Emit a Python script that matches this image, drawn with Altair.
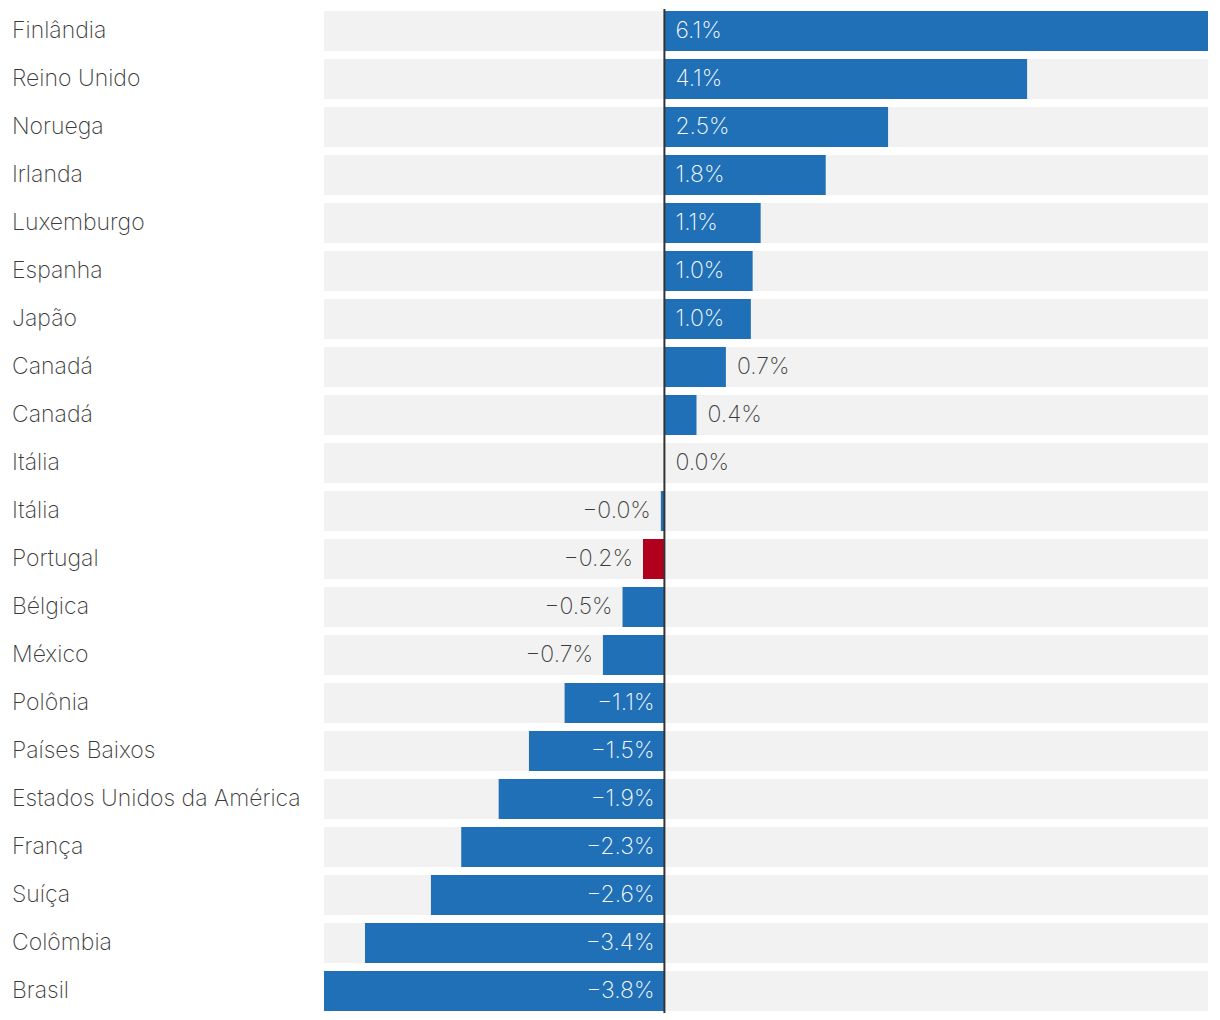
import altair as alt
import pandas as pd

countries = ["Finlândia", "Reino Unido", "Noruega", "Irlanda", "Luxemburgo", "Espanha",
             "Japão", "Canadá", "Canadá", "Itália", "Itália", "Portugal", "Bélgica",
             "México", "Polônia", "Países Baixos", "Estados Unidos da América", "França",
             "Suíça", "Colômbia", "Brasil"]
values = [6.1, 4.07, 2.51, 1.81, 1.08, 0.99, 0.97, 0.69, 0.36, 0.0, -0.04, -0.24, -0.47,
          -0.69, -1.12, -1.52, -1.86, -2.28, -2.62, -3.36, -3.82]
highlight = "Portugal"

df = pd.DataFrame({"id": list(range(len(countries))), "country": countries, "value": values})

FONT = "Inter"
FW = 200
FS = 23
BLUE = "#2070b8"
RED = "#b0001e"
TXT = "#3a3a3a"

y = alt.Y("id:O", axis=None,
          scale=alt.Scale(paddingInner=1/6, paddingOuter=1/24))
xscale = alt.Scale(domain=[min(values), max(values)], nice=False, zero=False)

base = alt.Chart(df).transform_joinaggregate(
    lo="min(value)", hi="max(value)"
).transform_calculate(
    label="(datum.value < 0 ? '\u2212' : '') + format(abs(datum.value), '.1f') + '%'",
    inside="abs(datum.value) >= 0.9",
    lx="abs(datum.value) >= 0.9 ? 0 : datum.value",
)

bg = base.mark_bar(color="#f2f2f2").encode(
    x=alt.X("lo:Q", scale=xscale, axis=None), x2="hi:Q", y=y)

bars = base.mark_bar().encode(
    x=alt.X("value:Q", scale=xscale, axis=None),
    x2=alt.datum(0),
    y=y,
    color=alt.condition(alt.datum.country == highlight, alt.value(RED), alt.value(BLUE)),
)

rule = base.mark_rule(color="#333333", strokeWidth=2).encode(
    x=alt.X("zero:Q", scale=xscale),
).transform_calculate(zero="0").transform_aggregate(zero="min(zero)")

txt_color = alt.condition("datum.inside", alt.value("white"), alt.value(TXT))

pos_lab = base.transform_filter("datum.value >= 0").mark_text(
    align="left", baseline="middle", dx=11, font=FONT, fontSize=FS, fontWeight=FW
).encode(x=alt.X("lx:Q", scale=xscale), y=y, text="label:N", color=txt_color)

neg_lab = base.transform_filter("datum.value < 0").mark_text(
    align="right", baseline="middle", dx=-10, font=FONT, fontSize=FS, fontWeight=FW
).encode(x=alt.X("lx:Q", scale=xscale), y=y, text="label:N", color=txt_color)

names = base.mark_text(
    align="left", baseline="middle", font=FONT, fontSize=FS, fontWeight=FW, color=TXT
).encode(x=alt.value(-312), y=y, text="country:N")

chart = alt.layer(bg, bars, rule, pos_lab, neg_lab, names).properties(
    width=884, height=1004,
    padding={"left": 4, "top": 0, "right": 0, "bottom": 0},
).configure_view(stroke=None)

chart.save("out.html", embed_options={"renderer": "svg", "actions": False})
